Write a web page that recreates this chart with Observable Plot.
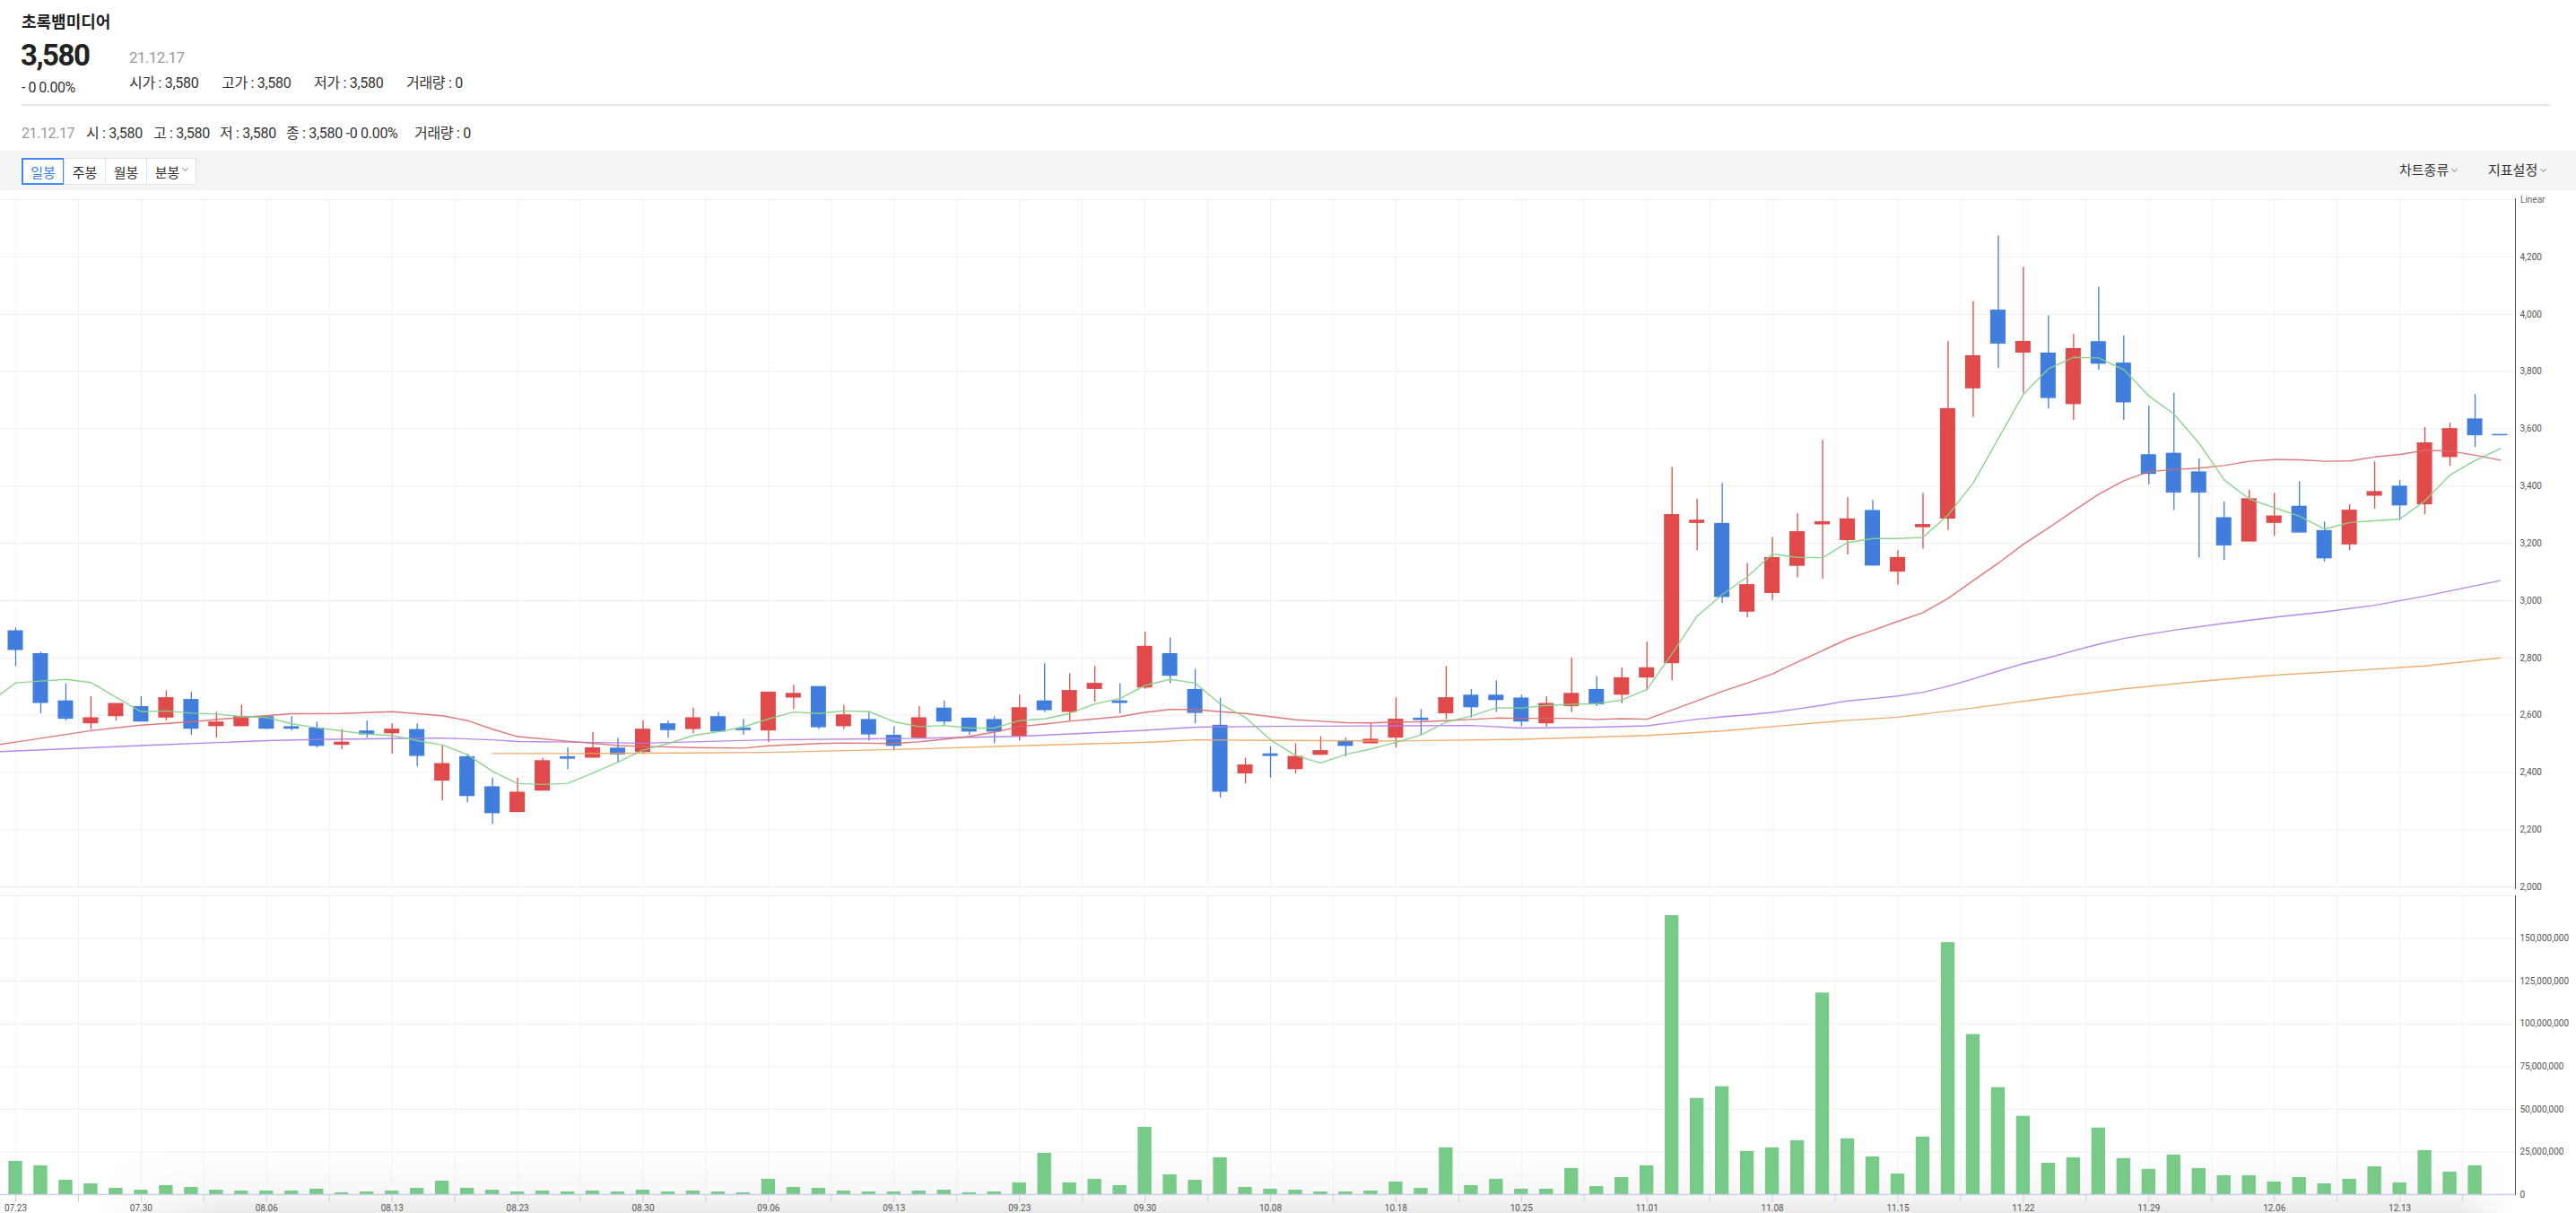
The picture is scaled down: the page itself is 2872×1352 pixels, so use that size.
<!DOCTYPE html>
<html lang="ko">
<head>
<meta charset="utf-8">
<title>초록뱀미디어</title>
<script src="https://cdn.jsdelivr.net/npm/d3@7"></script>
<script src="https://cdn.jsdelivr.net/npm/@observablehq/plot@0.6"></script>
<style>
html,body{margin:0;padding:0;background:#fff;}
body{width:2872px;height:1352px;position:relative;overflow:hidden;font-family:Roboto,"Noto Sans CJK KR",sans-serif;color:#222;}
.t{position:absolute;white-space:nowrap;line-height:1;}
.band{position:absolute;left:0;top:168px;width:2872px;height:44px;background:#f5f5f6;}
.btn{position:absolute;top:176px;height:30px;box-sizing:border-box;background:#fff;border:1px solid #e3e3e3;font-size:15px;color:#333;display:flex;align-items:center;justify-content:center;}
.btn.on{border:2px solid #4387f0;color:#3b7eea;}
.chev{display:inline-block;width:4px;height:4px;border-right:1px solid #9a9a9a;border-bottom:1px solid #9a9a9a;transform:rotate(45deg);margin-left:4px;position:relative;top:-4px;}
.rule{position:absolute;left:24px;top:116px;width:2819px;height:2px;background:#e4e4e4;}
#price,#vol{position:absolute;left:0;}
#price{top:213px;}
#vol{top:990px;}
#shade{position:absolute;left:0;top:1280px;width:2872px;height:72px;
  background:linear-gradient(to bottom,rgba(0,0,0,0),rgba(0,0,0,0.03) 70%,rgba(0,0,0,0.085));
  -webkit-mask-image:linear-gradient(to right,transparent 110px,#000 250px,#000 2740px,transparent 2800px);
  mask-image:linear-gradient(to right,transparent 110px,#000 250px,#000 2740px,transparent 2800px);}
#vol [aria-label="x-axis"] line,#vol [aria-label="x-axis tick"]{stroke:#c9cfe6;}
#vol [aria-label="x-axis"] text,#vol [aria-label="x-axis tick label"]{fill:#555;}
</style>
</head>
<body>
<div class="t" id="name" style="left:24px;top:16px;font-size:18px;font-weight:700;color:#222">초록뱀미디어</div>
<div class="t" id="bigPrice" style="left:23px;top:45px;font-size:33px;font-weight:700;letter-spacing:-1.5px;color:#222"></div>
<div class="t" id="date1" style="left:144px;top:56px;font-size:17px;color:#999;letter-spacing:-0.6px"></div>
<div class="t" id="chg" style="left:24px;top:90px;font-size:16px;color:#333;letter-spacing:-0.5px"></div>
<div class="t" id="h_o" style="left:144px;top:85px;font-size:16px;color:#333;letter-spacing:-0.3px"></div>
<div class="t" id="h_h" style="left:247px;top:85px;font-size:16px;color:#333;letter-spacing:-0.3px"></div>
<div class="t" id="h_l" style="left:350px;top:85px;font-size:16px;color:#333;letter-spacing:-0.3px"></div>
<div class="t" id="h_v" style="left:453px;top:85px;font-size:16px;color:#333;letter-spacing:-0.3px"></div>
<div class="rule"></div>
<div class="t" id="date2" style="left:24px;top:141px;font-size:16px;color:#999;letter-spacing:-0.4px"></div>
<div class="t" id="l_o" style="left:96px;top:141px;font-size:16px;color:#333;letter-spacing:-0.3px"></div>
<div class="t" id="l_h" style="left:171px;top:141px;font-size:16px;color:#333;letter-spacing:-0.3px"></div>
<div class="t" id="l_l" style="left:245px;top:141px;font-size:16px;color:#333;letter-spacing:-0.3px"></div>
<div class="t" id="l_c" style="left:319px;top:141px;font-size:16px;color:#333;letter-spacing:-0.3px"></div>
<div class="t" id="l_v" style="left:462px;top:141px;font-size:16px;color:#333;letter-spacing:-0.3px"></div>
<div class="band"></div>
<div class="btn on" style="left:24px;width:48px">일봉</div>
<div class="btn" style="left:71px;width:47px">주봉</div>
<div class="btn" style="left:117px;width:47px">월봉</div>
<div class="btn" style="left:163px;width:56px">분봉<span class="chev"></span></div>
<div class="t" style="left:2675px;top:183px;font-size:15px;color:#333">차트종류<span class="chev"></span></div>
<div class="t" style="left:2774px;top:183px;font-size:15px;color:#333">지표설정<span class="chev"></span></div>
<div id="shade"></div>
<div id="price"></div>
<div id="vol"></div>
<div class="t" style="left:2810px;top:218px;font-size:10px;color:#666">Linear</div>
<script>
// ---- data ----
const LAST_DATE = "21.12.17";
const xLabels = ["07.23","07.30","08.06","08.13","08.23","08.30","09.06","09.13","09.23","09.30",
  "10.08","10.18","10.25","11.01","11.08","11.15","11.22","11.29","12.06","12.13"];
const opens = [2895,2815,2650,2570,2595,2630,2590,2655,2560,2560,
 2595,2560,2555,2495,2545,2535,2550,2370,2455,2350,
 2260,2335,2455,2450,2485,2470,2570,2550,2595,2555,
 2545,2660,2700,2560,2585,2530,2520,2625,2590,2585,
 2525,2650,2610,2690,2650,2695,2815,2690,2565,2395,
 2465,2410,2460,2510,2500,2520,2590,2605,2670,2670,
 2660,2570,2630,2690,2670,2730,2780,3270,3270,2960,
 3025,3120,3265,3210,3315,3100,3255,3285,3740,4015,
 3865,3865,3685,3905,3830,3510,3515,3450,3290,3205,
 3270,3330,3245,3195,3365,3400,3335,3500,3635,3580];
const highs = [2905,2820,2710,2665,2640,2665,2685,2680,2610,2635,
 2595,2595,2575,2550,2580,2570,2570,2495,2465,2380,
 2380,2450,2485,2540,2520,2580,2580,2625,2610,2585,
 2680,2705,2700,2635,2610,2560,2630,2650,2590,2595,
 2670,2780,2745,2770,2710,2890,2870,2760,2660,2450,
 2490,2500,2525,2520,2570,2660,2620,2770,2690,2720,
 2670,2665,2800,2735,2765,2855,3465,3355,3410,3130,
 3220,3305,3560,3360,3350,3175,3375,3905,4045,4275,
 4165,3995,3930,4095,3925,3680,3725,3495,3345,3385,
 3375,3415,3275,3335,3485,3420,3605,3620,3720,3580];
const lows = [2770,2605,2580,2550,2580,2580,2580,2530,2520,2560,
 2550,2545,2485,2480,2520,2465,2420,2300,2295,2220,
 2260,2335,2410,2450,2435,2465,2520,2535,2545,2530,
 2505,2620,2550,2550,2510,2475,2520,2565,2530,2500,
 2510,2610,2580,2645,2605,2690,2710,2570,2310,2360,
 2380,2395,2460,2455,2500,2485,2530,2585,2590,2610,
 2560,2560,2610,2630,2640,2685,2720,3175,2990,2940,
 3000,3080,3075,3160,3120,3055,3180,3245,3640,3810,
 3725,3670,3630,3805,3630,3405,3315,3150,3140,3205,
 3225,3240,3135,3175,3320,3280,3300,3470,3535,3580];
const closes = [2830,2645,2590,2590,2640,2580,2660,2555,2575,2595,
 2555,2555,2495,2505,2535,2550,2460,2430,2320,2260,
 2330,2440,2450,2485,2465,2550,2550,2590,2545,2550,
 2680,2675,2560,2600,2535,2495,2590,2580,2545,2545,
 2625,2620,2685,2710,2645,2840,2740,2610,2335,2425,
 2460,2455,2475,2495,2515,2585,2585,2660,2630,2655,
 2580,2640,2675,2640,2730,2765,3300,3280,3015,3055,
 3150,3240,3275,3285,3125,3150,3265,3670,3855,3900,
 3905,3710,3880,3830,3695,3445,3380,3380,3195,3355,
 3295,3240,3150,3315,3380,3335,3550,3600,3580,3580];
// volume, in millions of shares
const volumesM = [19.5,16.9,8.4,6.3,3.7,2.6,5.3,4.2,2.6,2.1,
 2.1,2.1,3.2,1.1,1.6,2.1,3.7,7.9,3.7,2.6,
 1.6,2.1,1.6,2.1,1.6,2.6,1.6,2.1,1.6,1.1,
 9.0,4.2,3.7,2.1,1.6,1.6,2.1,2.6,1.1,1.6,
 6.9,24.2,6.9,9.0,5.3,39.5,11.6,8.4,21.6,4.2,
 3.2,2.6,1.6,1.6,2.1,7.4,3.7,27.4,5.3,9.0,
 3.2,3.2,15.3,4.7,10.0,16.9,163.4,56.4,63.2,25.3,
 27.4,31.6,118.1,32.7,22.1,12.1,33.7,147.6,93.8,62.7,
 45.9,18.4,21.6,39.0,21.1,14.8,23.2,15.3,11.1,11.1,
 7.4,10.0,6.3,9.0,16.3,6.9,25.8,13.2,16.9,0];
// 5-day moving average, starting at index -1
const MA5_START = -1;
const ma5 = [2648,
 2713,2719,2725,2714,2663,2612,2615,2607,2604,2595,
 2592,2570,2556,2545,2534,2529,2511,2496,2462,2404,
 2361,2358,2362,2398,2436,2478,2501,2529,2542,2559,
 2587,2611,2606,2615,2613,2577,2560,2564,2555,2555,
 2581,2587,2606,2639,2658,2704,2725,2712,2639,2592,
 2514,2459,2433,2463,2482,2505,2531,2576,2597,2626,
 2625,2634,2638,2640,2653,2690,2815,2946,3021,3084,
 3163,3151,3150,3203,3217,3217,3221,3299,3411,3566,
 3721,3810,3850,3848,3807,3715,3652,3550,3422,3355,
 3325,3295,3250,3273,3279,3285,3349,3439,3489,3531];
// [index, value] readings
const ma20 = [[-1,2493],[0,2506],[3,2546],[5,2565],[7,2577],[9,2592],[11,2605],[13,2606],[15,2612],[17,2598],
 [18,2581],[19,2551],[20,2525],[22,2509],[24,2494],[25,2491],[27,2487],[29,2485],[30,2493],[32,2501],
 [33,2503],[35,2501],[36,2507],[37,2516],[38,2526],[39,2541],[40,2560],[41,2569],[42,2579],[43,2587],
 [44,2595],[45,2610],[46,2620],[47,2620],[48,2612],[49,2606],[50,2595],[51,2584],[52,2579],[53,2574],
 [54,2573],[55,2576],[56,2577],[57,2581],[58,2585],[59,2590],[60,2589],[62,2589],[63,2585],[64,2588],
 [65,2586],[66,2618],[67,2650],[68,2683],[69,2712],[70,2744],[71,2786],[72,2826],[73,2866],[74,2896],
 [75,2928],[76,2958],[77,3008],[78,3070],[79,3131],[80,3197],[81,3254],[82,3314],[83,3372],[84,3419],
 [85,3451],[86,3458],[87,3463],[88,3472],[89,3487],[90,3493],[91,3492],[92,3487],[93,3488],[94,3502],
 [95,3511],[96,3525],[97,3523],[98,3508],[99,3491]];
const ma60 = [[-1,2471],[0,2475],[5,2494],[10,2511],[12,2515],[15,2518],[17,2520],[19,2514],[20,2508],[22,2506],
 [25,2502],[30,2514],[35,2518],[40,2526],[45,2547],[47,2558],[50,2561],[55,2563],[58,2564],[60,2555],
 [63,2558],[65,2563],[66,2574],[67,2586],[68,2594],[69,2601],[70,2610],[71,2622],[72,2635],[73,2650],
 [74,2658],[75,2667],[76,2680],[77,2701],[78,2727],[79,2754],[80,2780],[81,2801],[82,2825],[83,2848],
 [84,2868],[85,2883],[86,2897],[88,2921],[90,2942],[92,2961],[94,2984],[96,3016],[98,3052],[99,3070]];
const ma120 = [[19,2466],[22,2466],[25,2467],[30,2470],[35,2480],[40,2493],[45,2505],[47,2514],[50,2512],[55,2510],
 [60,2516],[65,2529],[68,2545],[70,2560],[73,2582],[75,2593],[78,2625],[81,2660],[84,2692],[87,2718],
 [90,2740],[93,2755],[96,2772],[99,2800]];
const priceTicks = d3.range(2000, 4401, 200);
const volTicks = d3.range(0, 175e6 + 1, 25e6);

// ---- header text from the last session ----
const fmt = d3.format(",");
const n = closes.length - 1;
const diff = closes[n] - closes[n - 1];
const pct = (diff / closes[n - 1] * 100).toFixed(2);
document.getElementById("bigPrice").textContent = fmt(closes[n]);
document.getElementById("date1").textContent = LAST_DATE;
document.getElementById("chg").textContent = `- ${Math.abs(diff)} ${pct}%`;
document.getElementById("h_o").textContent = `시가 : ${fmt(opens[n])}`;
document.getElementById("h_h").textContent = `고가 : ${fmt(highs[n])}`;
document.getElementById("h_l").textContent = `저가 : ${fmt(lows[n])}`;
document.getElementById("h_v").textContent = `거래량 : ${fmt(volumesM[n] * 1e6)}`;
document.getElementById("date2").textContent = LAST_DATE;
document.getElementById("l_o").textContent = `시 : ${fmt(opens[n])}`;
document.getElementById("l_h").textContent = `고 : ${fmt(highs[n])}`;
document.getElementById("l_l").textContent = `저 : ${fmt(lows[n])}`;
document.getElementById("l_c").textContent = `종 : ${fmt(closes[n])} -${Math.abs(diff)} ${pct}%`;
document.getElementById("l_v").textContent = `거래량 : ${fmt(volumesM[n] * 1e6)}`;

// ---- chart ----
const RED = "#e04a4a", BLUE = "#417ddc", VOLC = "#77ca87";
const W = 2872, MR = 68;
const X_DOMAIN = [-0.6076, 99.607];
const BODY = 0.304, VBAR = 0.274;
const gridX = d3.range(0, 100, 2.5);
const candles = opens.map((o, i) => ({i, o, h: highs[i], l: lows[i], c: closes[i], col: closes[i] > o ? RED : BLUE}));
const vols = volumesM.map((v, i) => ({i, v: v * 1e6}));
const ma5Data = ma5.map((v, k) => ({i: k + MA5_START, v}));
const axisStyle = {background: "transparent", fontFamily: "Roboto, sans-serif", fontSize: "10px", color: "#555", overflow: "visible"};

const price = Plot.plot({
  width: W, height: 777, marginLeft: 0, marginRight: MR, marginTop: 8, marginBottom: 0,
  style: axisStyle,
  color: {type: "identity"},
  x: {domain: X_DOMAIN, axis: null},
  y: {domain: [1994, 4404], axis: "right", ticks: priceTicks.filter(v => v <= 4200), tickSize: 0, tickPadding: 5,
      tickFormat: fmt, label: null, line: true},
  marks: [
    Plot.ruleY(priceTicks, {stroke: "#eeeeee"}),
    Plot.ruleX(gridX, {stroke: "#f2f2f2"}),
    Plot.ruleX(candles, {x: "i", y1: "l", y2: "h", stroke: "col", strokeWidth: 1.3}),
    Plot.rect(candles, {x1: d => d.i - BODY, x2: d => d.i + BODY, y1: "o", y2: "c", fill: "col"}),
    Plot.ruleY(candles, {x1: d => d.i - BODY, x2: d => d.i + BODY, y: "c", stroke: "col", strokeWidth: 1.5}),
    Plot.line(ma120, {x: d => d[0], y: d => d[1], stroke: "#eda45e", strokeWidth: 1.4, strokeOpacity: 0.9, clip: true}),
    Plot.line(ma60, {x: d => d[0], y: d => d[1], stroke: "#b07ae8", strokeWidth: 1.4, strokeOpacity: 0.9, clip: true}),
    Plot.line(ma20, {x: d => d[0], y: d => d[1], stroke: "#dc6a6a", strokeWidth: 1.4, strokeOpacity: 0.9, clip: true}),
    Plot.line(ma5Data, {x: "i", y: "v", stroke: "#86d28a", strokeWidth: 1.4, strokeOpacity: 0.95, clip: true})
  ]
});
document.getElementById("price").append(price);

const vol = Plot.plot({
  width: W, height: 362, marginLeft: 0, marginRight: MR, marginTop: 8, marginBottom: 21,
  style: axisStyle,
  x: {domain: X_DOMAIN, ticks: gridX, tickSize: 9, tickPadding: 2,
      tickFormat: d => (d % 5 === 0 ? xLabels[d / 5] : ""), label: null},
  y: {domain: [0, 175e6], axis: "right", ticks: volTicks.filter(v => v <= 150e6), tickSize: 0, tickPadding: 5,
      tickFormat: fmt, label: null, line: true},
  marks: [
    Plot.ruleY(volTicks, {stroke: "#eeeeee"}),
    Plot.ruleX(gridX, {stroke: "#f2f2f2"}),
    Plot.rect(vols, {x1: d => d.i - VBAR, x2: d => d.i + VBAR, y1: 0, y2: "v", fill: VOLC}),
    Plot.ruleY([0], {stroke: "#c9cfe6", strokeWidth: 1.5})
  ]
});
document.getElementById("vol").append(vol);
</script>
</body>
</html>
